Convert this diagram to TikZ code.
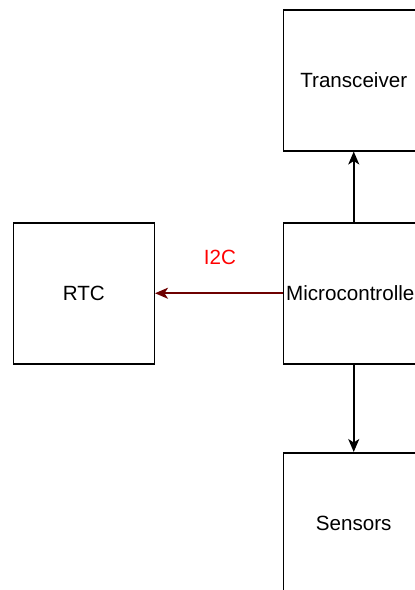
\documentclass[tikz,border=0pt]{standalone}
\usepackage{fontspec}
\setmainfont{Liberation Sans}
\usetikzlibrary{arrows.meta}
\definecolor{darkred}{RGB}{110,0,0}
\definecolor{lblred}{RGB}{255,0,0}
\tikzset{
  blk/.style={draw=black, line width=1.5pt, minimum width=141pt, minimum height=141pt, inner sep=0pt, font=\fontsize{20.6}{24}\selectfont, anchor=north west},
  conn/.style={line width=1.5pt, -{Stealth[length=13pt,width=11pt,inset=3.5pt]}},
}
\begin{document}
\begin{tikzpicture}[x=1pt,y=-1pt]
\useasboundingbox (0,0) rectangle (415,590);
\clip (0,0) rectangle (415,590);
\fill[white] (0,0) rectangle (415,590);
\node[blk] (trx) at (282.5,9) {Transceiver};
\node[blk] (rtc) at (12.5,222) {RTC};
\node[blk] (mcu) at (282.5,222) {Microcontroller};
\node[blk] (sen) at (282.5,452) {Sensors};
\draw[conn] (mcu.north) -- (trx.south);
\draw[conn] (mcu.south) -- (sen.north);
\draw[conn, draw=darkred, fill=darkred, line width=1.7pt] (mcu.west) -- node[pos=0.49, above=24pt, text=lblred, font=\fontsize{20.6}{24}\selectfont] (lbl) {I2C} (rtc.east);
\end{tikzpicture}
\end{document}
